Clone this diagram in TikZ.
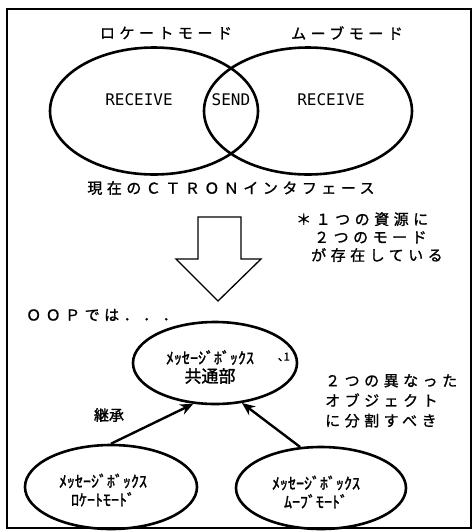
\documentclass[tikz,border=0pt]{standalone}
\usepackage{fontspec}
\usetikzlibrary{shapes.geometric,arrows.meta}
\newfontfamily\jp[FakeBold=1.5]{Noto Sans CJK JP}
\newfontfamily\jpls[LetterSpace=30,FakeBold=1.2]{Noto Sans CJK JP}
\newfontfamily\monof{DejaVu Sans Mono}
\tikzset{
  venn/.style={ellipse,draw,line width=2.6pt,inner sep=0pt,minimum width=208pt,minimum height=127pt},
  obj/.style={ellipse,draw,line width=2.6pt,inner sep=0pt},
  lbl/.style={font=\jpls\fontsize{15}{15}\selectfont,inner sep=0pt},
  note/.style={font=\jpls\fontsize{15}{18}\selectfont,inner sep=0pt,align=left},
  mtxt/.style={font=\monof\fontsize{16}{16}\selectfont,inner sep=0pt},
  hw/.style={font=\jp\fontsize{16}{18.5}\selectfont,inner sep=0pt,align=center},
  inh/.style={line width=2.4pt,-{Stealth[length=13pt,width=11pt]}}
}
\begin{document}
\begin{tikzpicture}[x=1pt,y=-1pt]
\useasboundingbox (0,0) rectangle (476,531);
% frame
\draw[line width=1.4pt] (7,9) rectangle (471,528);
% Venn
\node[venn] (lm) at (154,111) {};
\node[venn] (mm) at (308,111) {};
\node[lbl] (lmt) at (166,33) {ロケートモード};
\node[lbl] (mmt) at (347,33) {ムーブモード};
\node[mtxt] (r1) at (139,100) {RECEIVE};
\node[mtxt] (sd) at (231,100) {SEND};
\node[mtxt] (r2) at (331,100) {RECEIVE};
\node[lbl] (ctron) at (231,188) {現在のＣＴＲＯＮインタフェース};
% big arrow
\draw[line width=1.3pt,line join=miter]
  (198,217) -- (241,217) -- (241,259) -- (261,259) -- (218,301) -- (176,259) -- (198,259) -- cycle;
\node[note,anchor=north west] (n1) at (296,212) {＊１つの資源に\\[0pt]\hspace*{1.2em}２つのモード\\[0pt]\hspace*{1em}が存在している};
\node[lbl,anchor=west] (oop) at (26,315) {ＯＯＰでは．．．};
% objects
\node[obj,minimum width=164pt,minimum height=82pt] (top) at (215,363) {};
\node[hw] (topt) at (210,367) {ﾒｯｾｰｼﾞﾎﾞｯｸｽ\\{\fontsize{17}{17}\selectfont 共通部}};
\node[font=\jp\fontsize{11}{11}\selectfont,inner sep=0pt] (topn) at (284,357) {､1};
\node[obj,minimum width=172pt,minimum height=84pt] (bl) at (111,487) {};
\node[hw] (blt) at (103,490) {ﾒｯｾｰｼﾞﾎﾞｯｸｽ\\ﾛｹｰﾄﾓｰﾄﾞ};
\node[obj,minimum width=170pt,minimum height=82pt] (br) at (321,488) {};
\node[hw] (brt) at (316,492) {ﾒｯｾｰｼﾞﾎﾞｯｸｽ\\ﾑｰﾌﾞﾓｰﾄﾞ};
\draw[inh] (bl.north) -- (top.242);
\draw[inh] (br.117) -- (top.304);
\node[font=\jp\fontsize{15}{15}\selectfont,inner sep=0pt] (kei) at (109,415) {継承};
\node[note,anchor=north west] (n2) at (325,374) {２つの異なった\\[2pt]オブジェクト\\[2pt]に分割すべき};
\end{tikzpicture}
\end{document}
